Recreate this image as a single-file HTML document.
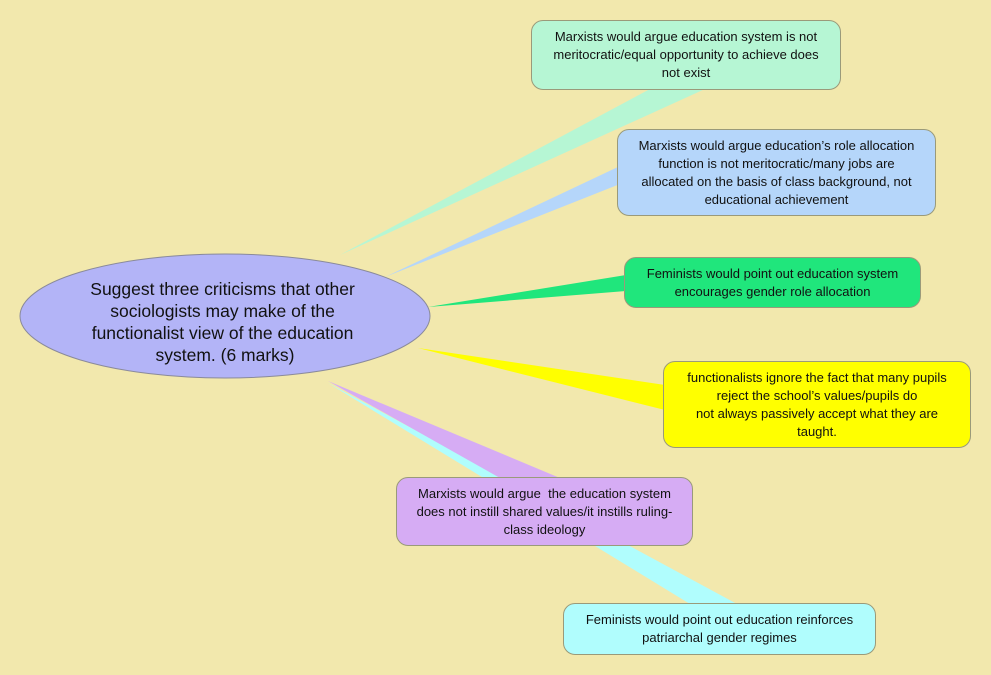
<!DOCTYPE html>
<html><head><meta charset="utf-8"><style>
body{margin:0;width:991px;height:675px;background:#f2e8ad;position:relative;overflow:hidden;font-family:"Liberation Sans",sans-serif}
.b{position:absolute;border:1px solid #9a9a7a;border-radius:12px;display:flex;align-items:center;justify-content:center;text-align:center;font-size:13px;line-height:18px;color:#111;box-sizing:border-box;padding:0 2px;white-space:nowrap}
svg{position:absolute;left:0;top:0}
</style></head><body>
<svg width="991" height="675">
<polygon points="340,255 650,89 705,89" fill="#b6f6d4"/>
<polygon points="385,277 620,166 620,184" fill="#b5d6fa"/>
<polygon points="428,307 626,275 626,291" fill="#20e67c"/>
<polygon points="418,348 665,385 665,410" fill="#ffff00"/>
<polygon points="328,383 737,604 690,604" fill="#b0fdfd"/>
<polygon points="328,381 560,478 500,478" fill="#d6acf4"/>
<ellipse cx="225" cy="316" rx="205" ry="62" fill="#b3b4f7" stroke="#8a8a9a" stroke-width="1"/>
<text font-family="Liberation Sans, sans-serif" font-size="17.5" fill="#111" text-anchor="middle">
<tspan x="225" y="295">Suggest three criticisms that other</tspan>
<tspan x="225" y="317">sociologists may make of the</tspan>
<tspan x="225" y="339">functionalist view of the education</tspan>
<tspan x="225" y="361">system. (6 marks)</tspan>
</text>
</svg>
<div class="b" style="left:531px;top:20px;width:310px;height:70px;background:#b6f6d4">Marxists would argue education system is not<br>meritocratic/equal opportunity to achieve does<br>not exist</div>
<div class="b" style="left:617px;top:129px;width:319px;height:87px;background:#b5d6fa">Marxists would argue education’s role allocation<br>function is not meritocratic/many jobs are<br>allocated on the basis of class background, not<br>educational achievement</div>
<div class="b" style="left:624px;top:257px;width:297px;height:51px;background:#20e67c">Feminists would point out education system<br>encourages gender role allocation</div>
<div class="b" style="left:663px;top:361px;width:308px;height:87px;background:#ffff00">functionalists ignore the fact that many pupils<br>reject the school’s values/pupils do<br>not always passively accept what they are<br>taught.</div>
<div class="b" style="left:396px;top:477px;width:297px;height:69px;background:#d6acf4">Marxists would argue&nbsp; the education system<br>does not instill shared values/it instills ruling-<br>class ideology</div>
<div class="b" style="left:563px;top:603px;width:313px;height:52px;background:#b0fdfd">Feminists would point out education reinforces<br>patriarchal gender regimes</div>
</body></html>
